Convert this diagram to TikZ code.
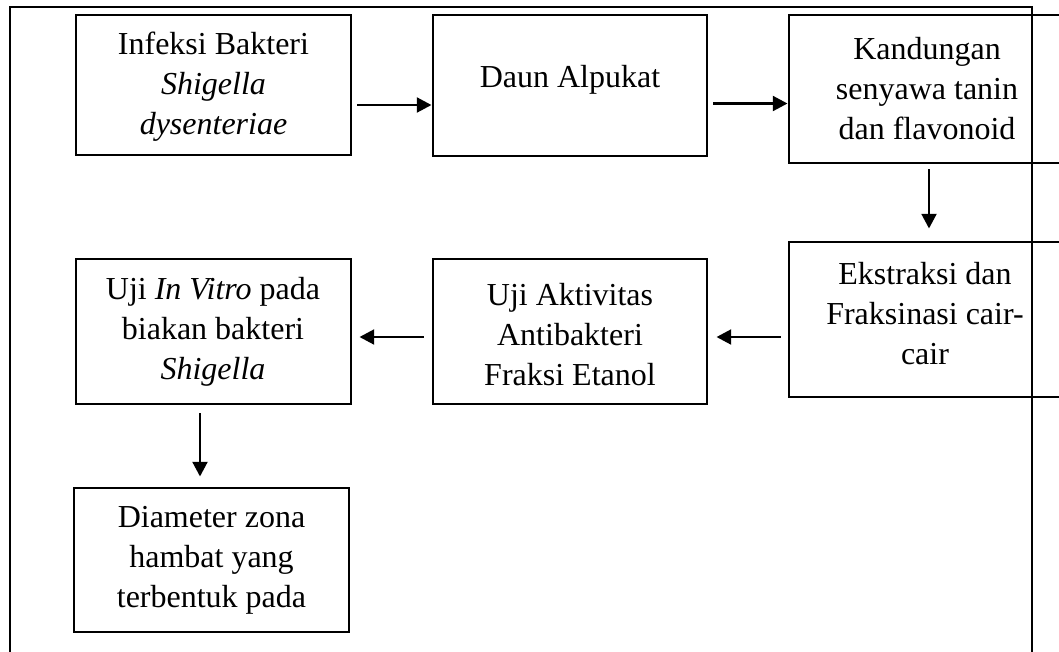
\documentclass[tikz,border=0pt]{standalone}
\usepackage{fontspec}
\setmainfont{Liberation Serif}
\usetikzlibrary{arrows.meta,calc,fit}
\begin{document}
\begin{tikzpicture}[x=0.75pt,y=-0.75pt,
  box/.style={draw,line width=2.2pt,inner sep=0pt,rectangle},
  txt/.style={align=center,font=\fontsize{24}{30}\selectfont,inner sep=0pt},
  arr/.style={line width=2.2pt,-{Triangle[length=11pt,width=11pt]}},
  frame/.style={line width=2.2pt}]
\useasboundingbox (0,0) rectangle (1059,651);
\clip (0,0) rectangle (1059,651);
% outer frame
\coordinate (fbl) at (10,660);
\coordinate (ftl) at (10,7);
\coordinate (ftr) at (1032,7);
\coordinate (fbr) at (1032,660);
\draw[frame] (fbl) -- (ftl) -- (ftr) -- (fbr);
% boxes
\node[box,fit={(76,15)(351,155)}] (b1) {};
\node[box,fit={(433,15)(707,156)}] (b2) {};
\node[box,fit={(789,15)(1062,163)}] (b3) {};
\node[box,fit={(789,242)(1062,397)}] (b7) {};
\node[box,fit={(433,259)(707,404)}] (b5) {};
\node[box,fit={(76,259)(351,404)}] (b4) {};
\node[box,fit={(74,488)(349,632)}] (b6) {};
% texts
\node[txt] (t1) at (213.5,87) {Infeksi Bakteri\\\textit{Shigella}\\\textit{dysenteriae}};
\node[txt,anchor=base] (t2) at (570,87) {Daun Alpukat};
\node[txt] (t3) at (927,89) {Kandungan\\senyawa tanin\\dan flavonoid};
\node[txt] (t7) at (925,314) {Ekstraksi dan\\Fraksinasi cair-\\cair};
\node[txt] (t5) at (570,335) {Uji Aktivitas\\Antibakteri\\Fraksi Etanol};
\node[txt] (t4) at (213,332) {Uji \textit{In Vitro} pada\\biakan bakteri\\\textit{Shigella}};
\node[txt] (t6) at (211.5,560) {Diameter zona\\hambat yang\\terbentuk pada};
% connectors
\draw[arr] ($(b1.east)+(5,20)$) -- ($(b2.west)+(0,19.5)$);
\draw[arr] ($(b2.east)+(5,18)$) -- ($(b3.west)+(0,14.5)$);
\draw[arr] ($(b3.south)+(3.5,5)$) -- ($(b7.north)+(3.5,-12)$);
\draw[arr] ($(b7.west)+(-7,17.5)$) -- ($(b5.east)+(8,5.5)$);
\draw[arr] ($(b5.west)+(-8,5.5)$) -- ($(b4.east)+(7,5.5)$);
\draw[arr] ($(b4.south)+(-13.5,8)$) -- ($(b6.north)+(-11.5,-10)$);
\end{tikzpicture}
\end{document}
